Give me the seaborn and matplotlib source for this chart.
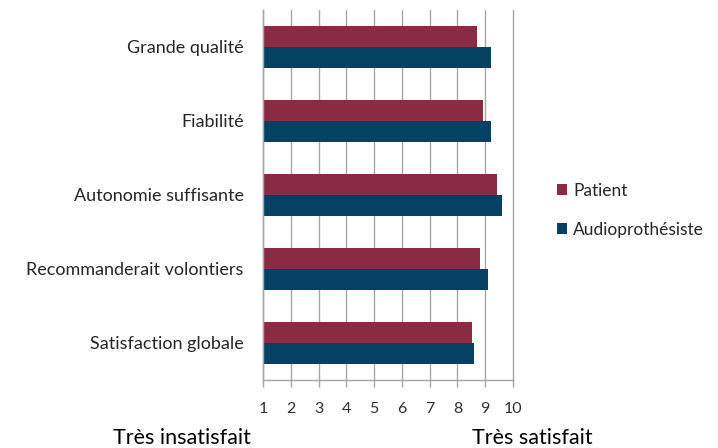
import pandas as pd
import seaborn as sns
import matplotlib.pyplot as plt
import numpy as np

# Values
categories = ['Grande qualité', 'Fiabilité', 'Autonomie suffisante',
              'Recommanderait volontiers', 'Satisfaction globale']
patient = [8.70, 8.91, 9.41, 8.80, 8.53]
audio = [9.19, 9.19, 9.59, 9.09, 8.59]
series = ['Patient', 'Audioprothésiste']
colors = ['#8A2B44', '#044163']
x_ticks = list(range(1, 11))

df = pd.DataFrame({
    'critere': categories * 2,
    'note': patient + audio,
    'serie': [series[0]] * len(categories) + [series[1]] * len(categories),
})

sns.set_style('white')
plt.rcParams['font.family'] = ['Lato', 'DejaVu Sans']

fig = plt.figure(figsize=(7.18, 4.48), dpi=100)
ax = fig.add_axes([0.3663, 0.1518, 0.3482, 0.8259])

sns.barplot(data=df, x='note', y='critere', hue='serie', orient='h',
            palette=colors, width=0.57, gap=0, ax=ax, saturation=1,
            edgecolor='none', errorbar=None)

ax.set_xlim(1, 10)
ax.set_ylim(4.5, -0.5)
ax.set_xticks(x_ticks)
ax.set_xticklabels([str(t) for t in x_ticks], fontsize=11.5, color='#303030')
ax.grid(axis='x', color='#a6a6a6', linewidth=1)
ax.grid(axis='y', visible=False)
ax.set_axisbelow(True)
for gl in ax.get_xgridlines():
    gl.set_clip_on(False)

# y ticks at category boundaries
ax.set_yticks(np.arange(-0.5, 5, 1), minor=True)
ax.tick_params(axis='y', which='major', length=0, labelsize=13,
               labelcolor='#262626', pad=14)
ax.tick_params(axis='y', which='minor', length=5, color='#a6a6a6', width=1)
ax.tick_params(axis='x', which='major', length=5, color='#a6a6a6', width=1,
               direction='out', bottom=True, pad=11)

for side in ['top', 'right']:
    ax.spines[side].set_visible(False)
for side in ['left', 'bottom']:
    ax.spines[side].set_color('#a6a6a6')
    ax.spines[side].set_linewidth(1)

ax.set_xlabel('')
ax.set_ylabel('')

leg = ax.legend(loc='upper left', bbox_to_anchor=(0.768, 0.603),
                bbox_transform=fig.transFigure, frameon=False,
                fontsize=12.5, handlelength=0.6, handleheight=0.6,
                handletextpad=0.35, labelspacing=1.3, borderaxespad=0,
                borderpad=0.3)
for t in leg.get_texts():
    t.set_color('#262626')

fig.text(0.254, 0.01, 'Très insatisfait', fontsize=15.5, ha='center',
         va='baseline', color='#000000')
fig.text(0.742, 0.01, 'Très satisfait', fontsize=15.5, ha='center',
         va='baseline', color='#000000')

plt.savefig('out.png', dpi=100)
